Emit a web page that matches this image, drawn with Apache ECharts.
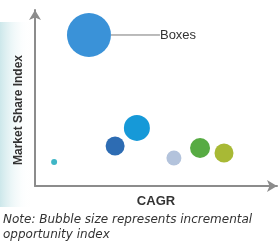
<!DOCTYPE html>
<html>
<head>
<meta charset="utf-8">
<script src="https://cdn.jsdelivr.net/npm/echarts@6/dist/echarts.min.js"></script>
<style>
  html, body { margin: 0; padding: 0; background: #fff; }
</style>
</head>
<body>
<div id="chart" style="width: 280px; height: 242px"></div>
<script>
// bubbles: CAGR (x), market share index (y), opportunity size
const names = ["Boxes", "", "", "", "", "", ""];
const cagr = [22.3, 7.9, 33.1, 42.1, 57.4, 68.2, 78.1];
const shareIdx = [85.8, 13.6, 22.7, 33.0, 15.9, 21.6, 18.8];
const bubbleSize = [44, 6, 19, 26, 15, 20, 19];
const colors = ["#3a92d8", "#3fb6c6", "#2d6cb3", "#1699d8", "#b3c3dc", "#57ab43", "#a8b935"];

let chart = echarts.init(document.querySelector("#chart"));

const points = cagr.map((x, i) => ({
  name: names[i],
  value: [x, shareIdx[i], bubbleSize[i]],
  itemStyle: { color: colors[i], opacity: 1 },
  label: { show: names[i] !== "" },
}));

let option = {
  animation: false,
  graphic: [
    {
      // soft teal panel behind y title
      type: "rect",
      left: 0,
      top: 22,
      shape: { width: 30, height: 185 },
      style: {
        fill: new echarts.graphic.LinearGradient(0, 0, 1, 0, [
          { offset: 0, color: "rgba(170,215,220,0.6)" },
          { offset: 1, color: "rgba(255,255,255,0)" },
        ]),
      },
      z: -1,
    },
    {
      type: "text",
      left: 3,
      top: 212,
      style: {
        text: "Note: Bubble size represents incremental\nopportunity index",
        font: "italic 12px 'DejaVu Sans'",
        fill: "#333",
        lineHeight: 15,
      },
    },
  ],
  grid: { left: 35, right: 3, top: 10, bottom: 56 },
  xAxis: {
    type: "value",
    min: 0,
    max: 100,
    name: "CAGR",
    nameLocation: "middle",
    nameGap: 9,
    nameTextStyle: { fontWeight: "bold", fontSize: 13, color: "#333", fontFamily: "Liberation Sans" },
    axisLine: { lineStyle: { color: "#8c8c8c", width: 2 }, symbol: ["none", "arrow"], symbolSize: [9, 10] },
    axisTick: { show: false },
    axisLabel: { show: false },
    splitLine: { show: false },
  },
  yAxis: {
    type: "value",
    min: 0,
    max: 100,
    name: "Market Share Index",
    nameLocation: "middle",
    nameGap: 10,
    nameRotate: 90,
    nameTextStyle: { fontWeight: "bold", fontSize: 12, color: "#333", fontFamily: "Liberation Sans", padding: [0, 24, 0, 0] },
    axisLine: { lineStyle: { color: "#8c8c8c", width: 2 }, symbol: ["none", "arrow"], symbolSize: [9, 10] },
    axisTick: { show: false },
    axisLabel: { show: false },
    splitLine: { show: false },
  },
  series: [
    {
      type: "scatter",
      data: points,
      symbolSize: (v) => v[2],
      label: {
        position: "right",
        formatter: "{b}",
        color: "#333",
        fontSize: 13,
        fontFamily: "Liberation Sans",
      },
      labelLayout: { dx: 44 },
      labelLine: { show: true, lineStyle: { color: "#777", width: 1 } },
    },
  ],
};
chart.setOption(option);
</script>
</body>
</html>
